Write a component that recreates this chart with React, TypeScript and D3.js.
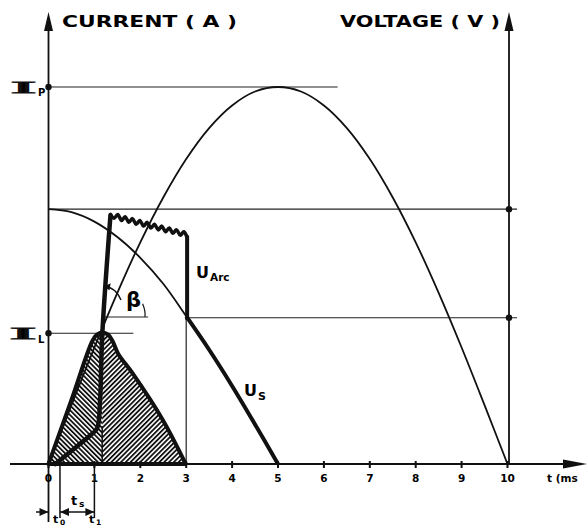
import React from "react";
import * as d3 from "d3";

// ---- data (time in ms, values normalised: Ip = 1) ----
const xTicks = [0, 1, 2, 3, 4, 5, 6, 7, 8, 9, 10];
const supplyT = [0, 0.5, 1, 1.5, 2, 2.5, 3, 3.5, 4, 4.5, 5, 5.5, 6, 6.5, 7, 7.5, 8, 8.5, 9, 9.5, 10];
const supplyV = [0, 0.156, 0.309, 0.454, 0.588, 0.707, 0.809, 0.891, 0.951, 0.988, 1, 0.988, 0.951, 0.891, 0.809, 0.707, 0.588, 0.454, 0.309, 0.156, 0];
const usT = [0, 0.5, 1, 1.5, 2, 2.5, 3, 3.5, 4, 4.5, 5];
const usV = [0.676, 0.668, 0.643, 0.602, 0.547, 0.478, 0.392, 0.303, 0.207, 0.105, 0];
const arcRiseT = [0.15, 0.35, 0.65, 0.9, 1.06, 1.12, 1.17, 1.35];
const arcRiseV = [0, 0.02, 0.05, 0.075, 0.095, 0.16, 0.34, 0.66];
const arcTopT = [1.35, 1.43, 1.51, 1.59, 1.67, 1.75, 1.83, 1.91, 1.99, 2.07, 2.15, 2.23, 2.31, 2.39, 2.47, 2.55, 2.63, 2.71, 2.79, 2.87, 2.95, 3.02];
const arcTopV = [0.662, 0.652, 0.662, 0.646, 0.656, 0.641, 0.651, 0.636, 0.646, 0.631, 0.641, 0.626, 0.636, 0.621, 0.631, 0.616, 0.626, 0.612, 0.621, 0.607, 0.616, 0.601];
const arcEndT = [3.02, 3.02];
const arcEndV = [0.601, 0.388];
const currT = [0, 0.5, 0.95, 1.05, 1.17, 1.3, 1.4, 1.52, 1.83, 2.49, 2.99];
const currV = [0, 0.17, 0.325, 0.343, 0.349, 0.343, 0.325, 0.292, 0.241, 0.117, 0];
const levelIp = 1;
const levelUs0 = 0.676;
const levelUs3 = 0.388;
const levelIL = 0.347;
const levelBeta = 0.39;
const t0 = 0.25;
const t1 = 1.0;
const tSplit = 1.17;

const W = 587, H = 526;
const x = d3.scaleLinear().domain([0, 10]).range([48.5, 507.5]);
const y = d3.scaleLinear().domain([0, 1]).range([464, 87]);

const zip = (a: number[], b: number[]) => a.map((t, i) => [t, b[i]] as [number, number]);
const lin = d3.line<[number, number]>().x(d => x(d[0])).y(d => y(d[1]));
const smooth = d3.line<[number, number]>().x(d => x(d[0])).y(d => y(d[1])).curve(d3.curveCatmullRom.alpha(0.5));

export default function App() {
  const font = "DejaVu Sans";
  const supply = smooth(zip(supplyT, supplyV)) || "";
  const usPts = zip(usT, usV);
  const usThin = smooth(usPts) || "";
  const usThickPts = usPts.filter(p => p[0] >= 3);
  const usThick = smooth(usThickPts) || "";
  const arcRise = smooth(zip(arcRiseT, arcRiseV)) || "";
  const arcTop = d3.line<[number, number]>().x(d => x(d[0])).y(d => y(d[1])).curve(d3.curveCardinal)(zip(arcTopT, arcTopV)) || "";
  const arcEnd = lin(zip(arcEndT, arcEndV)) || "";
  const currPts = zip(currT, currV);
  const curr = smooth(currPts) + "Z";
  const xr = x(10) + 1.5;
  const dimY = 512;
  const arrowR = (px: number, py: number) => `M${px},${py} L${px - 9},${py - 4} L${px - 9},${py + 4} Z`;
  const arrowL = (px: number, py: number) => `M${px},${py} L${px + 9},${py - 4} L${px + 9},${py + 4} Z`;
  return (
    <svg width={W} height={H} style={{ position: "absolute", left: 0, top: 0, background: "#fff" }}>
      <defs>
        <pattern id="hatchL" width="3.4" height="3.4" patternUnits="userSpaceOnUse" patternTransform="rotate(45)">
          <rect width="3.4" height="3.4" fill="#fff" />
          <line x1="0.9" y1="0" x2="0.9" y2="3.4" stroke="#111" strokeWidth="1.8" />
        </pattern>
        <pattern id="hatchR" width="3.4" height="3.4" patternUnits="userSpaceOnUse" patternTransform="rotate(-45)">
          <rect width="3.4" height="3.4" fill="#fff" />
          <line x1="0.9" y1="0" x2="0.9" y2="3.4" stroke="#111" strokeWidth="1.8" />
        </pattern>
        <clipPath id="curClip"><path d={curr} /></clipPath>
      </defs>
      {/* hatched current pulse */}
      <g clipPath="url(#curClip)">
        <rect x={x(0) - 5} y={y(0.4)} width={x(tSplit) - x(0) + 5} height={y(0) - y(0.4) + 2} fill="url(#hatchR)" />
        <rect x={x(tSplit)} y={y(0.4)} width={x(3.2) - x(tSplit)} height={y(0) - y(0.4) + 2} fill="url(#hatchL)" />
      </g>
      <line x1={x(tSplit)} x2={x(tSplit)} y1={y(0)} y2={y(0.1)} stroke="#111" strokeWidth={1.5} />
      {/* horizontal reference lines */}
      <line x1={x(0)} x2={x(6.3)} y1={y(levelIp)} y2={y(levelIp)} stroke="#222" strokeWidth={1.1} />
      <line x1={x(0)} x2={xr + 8} y1={y(levelUs0)} y2={y(levelUs0)} stroke="#222" strokeWidth={1.1} />
      <line x1={x(3)} x2={xr + 8} y1={y(levelUs3)} y2={y(levelUs3)} stroke="#222" strokeWidth={1.1} />
      <line x1={x(0)} x2={x(1.85)} y1={y(levelIL)} y2={y(levelIL)} stroke="#222" strokeWidth={1.1} />
      <line x1={x(1.2)} x2={x(2.17)} y1={y(levelBeta)} y2={y(levelBeta)} stroke="#222" strokeWidth={1.1} />
      <line x1={x(3)} x2={x(3)} y1={y(0)} y2={y(levelUs3)} stroke="#222" strokeWidth={1.2} />
      {/* axes */}
      <line x1={10} x2={565} y1={y(0)} y2={y(0)} stroke="#111" strokeWidth={2} />
      <path d={`M587,${y(0)} L563,${y(0) - 4.5} L563,${y(0) + 4.5} Z`} fill="#111" />
      <line x1={x(0)} x2={x(0)} y1={522} y2={26} stroke="#111" strokeWidth={1.8} />
      <path d={`M${x(0)},12 L${x(0) - 4.5},31 L${x(0) + 4.5},31 Z`} fill="#111" />
      <line x1={xr} x2={xr} y1={y(0)} y2={26} stroke="#111" strokeWidth={1.8} />
      <path d={`M${xr},12 L${xr - 4.5},31 L${xr + 4.5},31 Z`} fill="#111" />
      {xTicks.map(t => (
        <g key={t}>
          <line x1={x(t)} x2={x(t)} y1={y(0) - 3} y2={y(0) + 4} stroke="#111" strokeWidth={2} />
          <text x={x(t)} y={482} textAnchor="middle" fontFamily={font} fontWeight="bold" fontSize={10.5}>{t}</text>
        </g>
      ))}
      <text x={547} y={482} fontFamily={font} fontWeight="bold" fontSize={10.5}>t (ms</text>
      {/* dots */}
      <circle cx={x(0)} cy={y(levelIp)} r={3.2} fill="#111" />
      <circle cx={x(0)} cy={y(levelIL)} r={3.2} fill="#111" />
      <circle cx={xr} cy={y(levelUs0)} r={3.2} fill="#111" />
      <circle cx={xr} cy={y(levelUs3)} r={3.2} fill="#111" />
      {/* curves */}
      <path d={supply} fill="none" stroke="#111" strokeWidth={1.8} />
      <path d={usThin} fill="none" stroke="#111" strokeWidth={1.8} />
      <path d={usThick} fill="none" stroke="#111" strokeWidth={4} />
      <path d={curr} fill="none" stroke="#111" strokeWidth={4} strokeLinejoin="round" />
      <path d={arcRise} fill="none" stroke="#111" strokeWidth={4.5} strokeLinejoin="round" strokeLinecap="round" />
      <path d={arcTop} fill="none" stroke="#111" strokeWidth={3.5} strokeLinejoin="round" strokeLinecap="round" />
      <path d={arcEnd} fill="none" stroke="#111" strokeWidth={4} strokeLinecap="square" />
      {/* beta angle marks */}
      <path d={`M${x(1.22)},${y(0.47)} Q${x(1.45)},${y(0.47)} ${x(1.58)},${y(0.435)}`} fill="none" stroke="#111" strokeWidth={1.4} />
      <path d={`M${x(1.2)},${y(0.47)} L${x(1.2) + 7},${y(0.47) - 3.5} L${x(1.2) + 6},${y(0.47) + 3.5} Z`} fill="#111" />
      <path d={`M${x(2.05)},${y(0.425)} Q${x(2.12)},${y(0.405)} ${x(2.1)},${y(levelBeta)}`} fill="none" stroke="#111" strokeWidth={1.2} />
      <text x={126} y={307} fontFamily={font} fontWeight="bold" fontSize={21}>β</text>
      {/* labels */}
      <text x={62} y={27} fontFamily={font} fontWeight="bold" fontSize={15.5} textLength={175} lengthAdjust="spacingAndGlyphs">CURRENT ( A )</text>
      <text x={340} y={27} fontFamily={font} fontWeight="bold" fontSize={15.5} textLength={160} lengthAdjust="spacingAndGlyphs">VOLTAGE ( V )</text>
      <text x={11} y={93} fontFamily="Liberation Serif" fontWeight="normal" fontSize={16} textLength={25} lengthAdjust="spacingAndGlyphs" stroke="#111" strokeWidth={0.9}>I</text>
      <text x={38} y={96} fontFamily={font} fontWeight="bold" fontSize={10}>P</text>
      <text x={10} y={339} fontFamily="Liberation Serif" fontWeight="normal" fontSize={16} textLength={26} lengthAdjust="spacingAndGlyphs" stroke="#111" strokeWidth={0.9}>I</text>
      <text x={38} y={343} fontFamily={font} fontWeight="bold" fontSize={10}>L</text>
      <text x={196} y={278} fontFamily={font} fontWeight="bold" fontSize={16}>U</text>
      <text x={210} y={281} fontFamily={font} fontWeight="bold" fontSize={10.5}>Arc</text>
      <text x={244} y={396} fontFamily={font} fontWeight="bold" fontSize={16}>U</text>
      <text x={258} y={400} fontFamily={font} fontWeight="bold" fontSize={11}>S</text>
      {/* dimension lines */}
      <line x1={x(t0)} x2={x(t0)} y1={y(0)} y2={518} stroke="#111" strokeWidth={1.5} />
      <line x1={x(t1)} x2={x(t1)} y1={y(0)} y2={518} stroke="#111" strokeWidth={1.5} />
      <line x1={36} x2={x(0)} y1={dimY} y2={dimY} stroke="#111" strokeWidth={1.5} />
      <path d={arrowR(x(0), dimY)} fill="#111" />
      <line x1={x(t0)} x2={x(t1)} y1={dimY} y2={dimY} stroke="#111" strokeWidth={1.5} />
      <path d={arrowL(x(t0), dimY)} fill="#111" />
      <path d={arrowR(x(t1), dimY)} fill="#111" />
      <text x={71} y={505} fontFamily={font} fontWeight="bold" fontSize={13}>t</text>
      <text x={79} y={507} fontFamily={font} fontWeight="bold" fontSize={9}>s</text>
      <text x={53} y={523} fontFamily={font} fontWeight="bold" fontSize={11}>t</text>
      <text x={60} y={525} fontFamily={font} fontWeight="bold" fontSize={7.5}>0</text>
      <text x={89} y={523} fontFamily={font} fontWeight="bold" fontSize={11}>t</text>
      <text x={96} y={525} fontFamily={font} fontWeight="bold" fontSize={7.5}>1</text>
    </svg>
  );
}
